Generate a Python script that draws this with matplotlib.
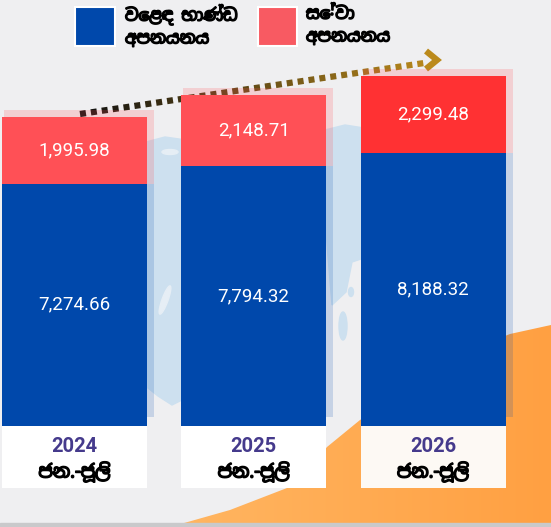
import numpy as np
import matplotlib
matplotlib.use("Agg")
import matplotlib.pyplot as plt
from matplotlib.patches import Rectangle, Polygon, Ellipse
from matplotlib.collections import LineCollection
from matplotlib import font_manager
import matplotlib.patheffects as pe

# data
years = ["2024", "2025", "2026"]
period = "ජන.-ජූලි"
merch = [7274.66, 7794.32, 8188.32]
services = [1995.98, 2148.71, 2299.48]
legend_labels = ["වෙළඳ භාණ්ඩ\nඅපනයනය", "සේවා\nඅපනයනය"]

blue = "#0048ab"
reds = ["#ff5056", "#ff5056", "#ff3133"]
gold = "#bb8a1c"

# look for any installed sinhala font
sinhala = sorted({f.name for f in font_manager.fontManager.ttflist
                  if "Sinhala" in f.name or "Iskoola" in f.name})
si_family = sinhala[:1] + ["DejaVu Sans"]
heavy = [pe.withStroke(linewidth=1.1, foreground="black")]

W, H = 551, 527
fig = plt.figure(figsize=(W / 100, H / 100), dpi=100)

# background layer in pixel coordinates
bg = fig.add_axes([0, 0, 1, 1])
bg.set_xlim(0, W)
bg.set_ylim(H, 0)
bg.axis("off")
bg.add_patch(Rectangle((0, 0), W, H, color="#efeff1", zorder=0))

# faint world map showing through the gaps
mapc = "#cde0ef"
bg.add_patch(Polygon([(146, 142), (165, 137), (186, 140), (186, 398), (172, 405),
                      (158, 396), (148, 388), (146, 300)], closed=True, color=mapc, zorder=1))
bg.add_patch(Polygon([(325, 130), (345, 125), (364, 128), (364, 258), (352, 262),
                      (346, 292), (332, 305), (325, 220)], closed=True, color=mapc, zorder=1))
bg.add_patch(Ellipse((343, 326), 8, 28, color=mapc, zorder=1))
bg.add_patch(Ellipse((351, 292), 5, 9, color=mapc, zorder=1))
bg.add_patch(Ellipse((165, 300), 6, 30, angle=20, color="#e6eef5", zorder=1))
bg.add_patch(Ellipse((170, 152), 16, 5, color="#e6eef5", zorder=1))

# orange swoosh bottom right
edge = [(170, 527), (230, 510), (287, 488), (310, 468), (327, 447), (360, 420),
        (430, 374), (480, 346), (510, 334), (551, 325), (551, 527)]
swoosh = Polygon(edge, closed=True, facecolor="none", edgecolor="none", zorder=2)
bg.add_patch(swoosh)
grad = np.linspace(0, 1, 256).reshape(1, -1)
cmap = matplotlib.colors.LinearSegmentedColormap.from_list("o", ["#ffb662", "#ffa042"])
im = bg.imshow(grad, cmap=cmap, extent=(170, W, H, 320), aspect="auto", zorder=2)
im.set_clip_path(swoosh)
bg.add_patch(Rectangle((0, 523), W, 4, color="#c9c9cb", zorder=3))

# dotted trend arrow, black fading to gold
p0 = np.array([80.0, 114.0])
p1 = np.array([431.0, 62.0])
L = np.hypot(*(p1 - p0))
u = (p1 - p0) / L
starts = np.arange(0, L - 4, 11.0)
segs = [[p0 + u * s, p0 + u * (s + 6)] for s in starts]
c0 = np.array(matplotlib.colors.to_rgb("#111111"))
c1 = np.array(matplotlib.colors.to_rgb(gold))
cols = [c0 + (c1 - c0) * (s / L) for s in starts]
bg.add_collection(LineCollection(segs, colors=cols, linewidths=4.5,
                                 capstyle="butt", zorder=5))
bg.plot([426, 437, 426], [51, 60, 69], color=gold, lw=4.5,
        solid_joinstyle="miter", solid_capstyle="butt", zorder=5)

# legend
bg.add_patch(Rectangle((75, 7), 40, 39, facecolor=blue, edgecolor="white", lw=1.5, zorder=5))
bg.add_patch(Rectangle((258, 7), 39, 39, facecolor="#f85a62", edgecolor="white", lw=1.5, zorder=5))
for lx, lab in zip([125, 306], legend_labels):
    bg.text(lx, 26, lab, family=si_family, fontsize=12, fontweight="bold",
            va="center", ha="left", linespacing=1.55, zorder=5, path_effects=heavy)

# bars layer: 179.25 px between bars, 30 units per px, baseline at y=426 px
step = 179.25
upp = 30.0
base = 426
ax = fig.add_axes([0, 0, 1, 1])
ax.patch.set_alpha(0)
ax.axis("off")
ax.set_xlim(-74.5 / step, (W - 74.5) / step)
ax.set_ylim(-(H - base) * upp, base * upp)

x = np.arange(len(years))
width = 145 / step
merch = np.array(merch)
services = np.array(services)
totals = merch + services

# soft shadows
ax.bar(x + 4.5 / step, merch - 9 * upp, width + 5 / step, bottom=9 * upp,
       color=blue, alpha=0.17, zorder=3)
ax.bar(x + 4.5 / step, services + 7 * upp, width + 5 / step, bottom=merch,
       color="#ff5056", alpha=0.2, zorder=3)

b1 = ax.bar(x, merch, width, color=blue, zorder=4)
b2 = ax.bar(x, services, width, bottom=merch, color=reds, zorder=4)
ax.bar_label(b1, labels=[f"{v:,.2f}" for v in merch], label_type="center",
             color="white", fontsize=13.5, family="Roboto", zorder=6)
ax.bar_label(b2, labels=[f"{v:,.2f}" for v in services], label_type="center",
             color="white", fontsize=13.5, family="Roboto", zorder=6)

# label boxes under the bars
ax.bar(x, -62 * upp, width, color=["white", "white", "#fdf9f4"], zorder=4)
for xi, yr in zip(x, years):
    ax.text(xi, -20 * upp, yr, ha="center", va="center", color="#453a8c",
            fontsize=14.5, fontweight="bold", family="Roboto", zorder=6)
    ax.text(xi, -46 * upp, period, ha="center", va="center", color="black",
            fontsize=13, fontweight="bold", family=si_family, zorder=6,
            path_effects=heavy)

fig.savefig("out.png", dpi=100)
